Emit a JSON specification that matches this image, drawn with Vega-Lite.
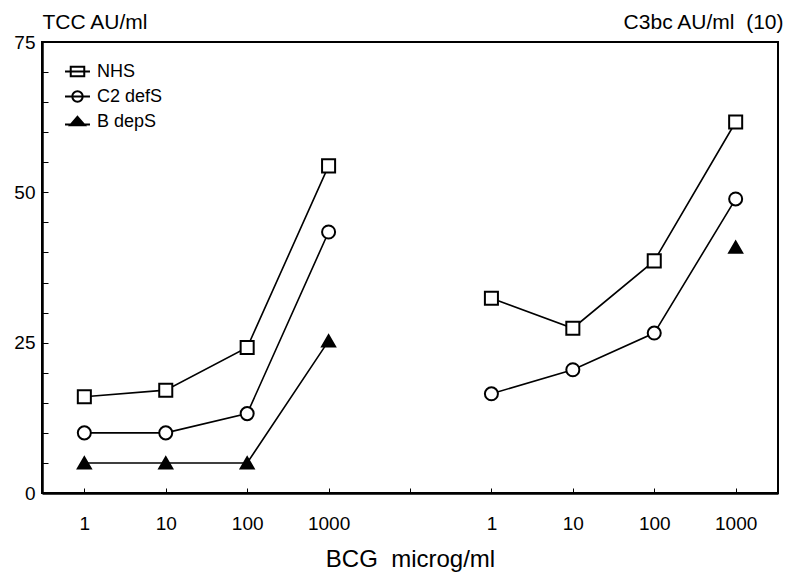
{
  "$schema": "https://vega.github.io/schema/vega-lite/v6.json",
  "width": 736,
  "height": 451,
  "autosize": "none",
  "padding": {"left": 42, "top": 42, "right": 22, "bottom": 86},
  "background": "white",
  "config": {
    "font": "Liberation Sans",
    "view": {"stroke": "black", "strokeWidth": 2},
    "axis": {"grid": false, "labelColor": "black", "titleColor": "black", "domainColor": "black", "tickColor": "black", "labelFontWeight": "normal", "titleFontWeight": "normal"}
  },
  "data": {
    "values": [
      {"series": "NHS", "grp": "NHS TCC", "pos": 0, "value": 16.0},
      {"series": "NHS", "grp": "NHS TCC", "pos": 1, "value": 17.1},
      {"series": "NHS", "grp": "NHS TCC", "pos": 2, "value": 24.2},
      {"series": "NHS", "grp": "NHS TCC", "pos": 3, "value": 54.4},
      {"series": "C2 defS", "grp": "C2 TCC", "pos": 0, "value": 10.0},
      {"series": "C2 defS", "grp": "C2 TCC", "pos": 1, "value": 10.0},
      {"series": "C2 defS", "grp": "C2 TCC", "pos": 2, "value": 13.2},
      {"series": "C2 defS", "grp": "C2 TCC", "pos": 3, "value": 43.4},
      {"series": "B depS", "grp": "B TCC", "pos": 0, "value": 5.0},
      {"series": "B depS", "grp": "B TCC", "pos": 1, "value": 5.0},
      {"series": "B depS", "grp": "B TCC", "pos": 2, "value": 5.0},
      {"series": "B depS", "grp": "B TCC", "pos": 3, "value": 25.3},
      {"series": "NHS", "grp": "NHS C3bc", "pos": 5, "value": 32.4},
      {"series": "NHS", "grp": "NHS C3bc", "pos": 6, "value": 27.4},
      {"series": "NHS", "grp": "NHS C3bc", "pos": 7, "value": 38.6},
      {"series": "NHS", "grp": "NHS C3bc", "pos": 8, "value": 61.7},
      {"series": "C2 defS", "grp": "C2 C3bc", "pos": 5, "value": 16.5},
      {"series": "C2 defS", "grp": "C2 C3bc", "pos": 6, "value": 20.5},
      {"series": "C2 defS", "grp": "C2 C3bc", "pos": 7, "value": 26.6},
      {"series": "C2 defS", "grp": "C2 C3bc", "pos": 8, "value": 48.9},
      {"series": "B depS", "grp": "B C3bc", "pos": 8, "value": 40.9}
    ]
  },
  "encoding": {
    "x": {
      "field": "pos",
      "type": "quantitative",
      "scale": {"domain": [-0.52, 8.52], "nice": false, "zero": false},
      "axis": {
        "values": [0, 1, 2, 3, 4, 5, 6, 7, 8],
        "labelExpr": "datum.value == 0 || datum.value == 5 ? '1' : datum.value == 1 || datum.value == 6 ? '10' : datum.value == 2 || datum.value == 7 ? '100' : datum.value == 3 || datum.value == 8 ? '1000' : ''",
        "title": "BCG\u00a0\u00a0microg/ml",
        "titleFontSize": 24,
        "titlePadding": 14,
        "labelFontSize": 19,
        "labelPadding": 26,
        "tickSize": -5,
        "tickWidth": 1,
        "domainWidth": 2.5
      }
    },
    "y": {
      "field": "value",
      "type": "quantitative",
      "scale": {"domain": [0, 75], "nice": false},
      "axis": {
        "values": [0, 5, 10, 15, 20, 25, 30, 35, 40, 45, 50, 55, 60, 65, 70, 75],
        "labelExpr": "datum.value % 25 == 0 ? datum.label : ''",
        "labelFontSize": 19,
        "labelPadding": 13,
        "tickSize": -6,
        "tickWidth": 1,
        "domainWidth": 2.5,
        "title": "TCC AU/ml",
        "titleFontSize": 21,
        "titleAngle": 0,
        "titleAlign": "left",
        "titleBaseline": "alphabetic",
        "titleX": 0,
        "titleY": -14
      }
    }
  },
  "layer": [
    {
      "mark": {"type": "line", "color": "black", "strokeWidth": 1.6},
      "encoding": {"detail": {"field": "grp"}}
    },
    {
      "mark": {"type": "point", "filled": false, "stroke": "black", "strokeWidth": 2, "size": 170, "opacity": 1},
      "encoding": {
        "y": {"field": "value", "type": "quantitative", "axis": null},
        "shape": {
          "field": "series",
          "type": "nominal",
          "scale": {"domain": ["NHS", "C2 defS", "B depS"], "range": ["square", "circle", "triangle-up"]},
          "legend": null
        },
        "fill": {
          "field": "series",
          "type": "nominal",
          "scale": {"domain": ["NHS", "C2 defS", "B depS"], "range": ["white", "white", "black"]},
          "legend": null
        }
      }
    },
    {
      "mark": {"type": "point", "filled": false, "stroke": "black", "strokeWidth": 2, "opacity": 0},
      "encoding": {
        "y": {"field": "value", "type": "quantitative", "axis": null},
        "shape": {
          "field": "series",
          "type": "nominal",
          "scale": {
            "domain": ["NHS", "C2 defS", "B depS"],
            "range": [
              "M-1.2,0H1.2M-0.65,-0.45H0.65V0.45H-0.65Z",
              "M-1.2,0H1.2M-0.5,0A0.5,0.5,0,1,1,0.5,0A0.5,0.5,0,1,1,-0.5,0Z",
              "M-1.2,0.3H1.2M0,-0.45L0.7,0.35H-0.7ZM0,-0.25L0.45,0.25H-0.45ZM0,-0.05L0.2,0.2H-0.2Z"
            ]
          },
          "legend": {
            "title": null,
            "orient": "none",
            "legendX": 24,
            "legendY": 18,
            "padding": 0,
            "labelFontSize": 18,
            "labelColor": "black",
            "labelOffset": 8,
            "symbolSize": 433,
            "symbolStrokeWidth": 2,
            "symbolStrokeColor": "black",
            "symbolOpacity": 1,
            "rowPadding": 4
          }
        }
      }
    },
    {
      "mark": {"type": "point", "opacity": 0},
      "encoding": {
        "y": {
          "field": "value",
          "type": "quantitative",
          "axis": {
            "orient": "right",
            "labels": false,
            "ticks": false,
            "domain": false,
            "title": "C3bc AU/ml\u00a0\u00a0(10)",
            "titleFontSize": 21,
            "titleAngle": 0,
            "titleAlign": "right",
            "titleBaseline": "alphabetic",
            "titleX": 5,
            "titleY": -14
          }
        }
      }
    }
  ],
  "resolve": {"axis": {"y": "independent"}, "scale": {"shape": "independent"}}
}
